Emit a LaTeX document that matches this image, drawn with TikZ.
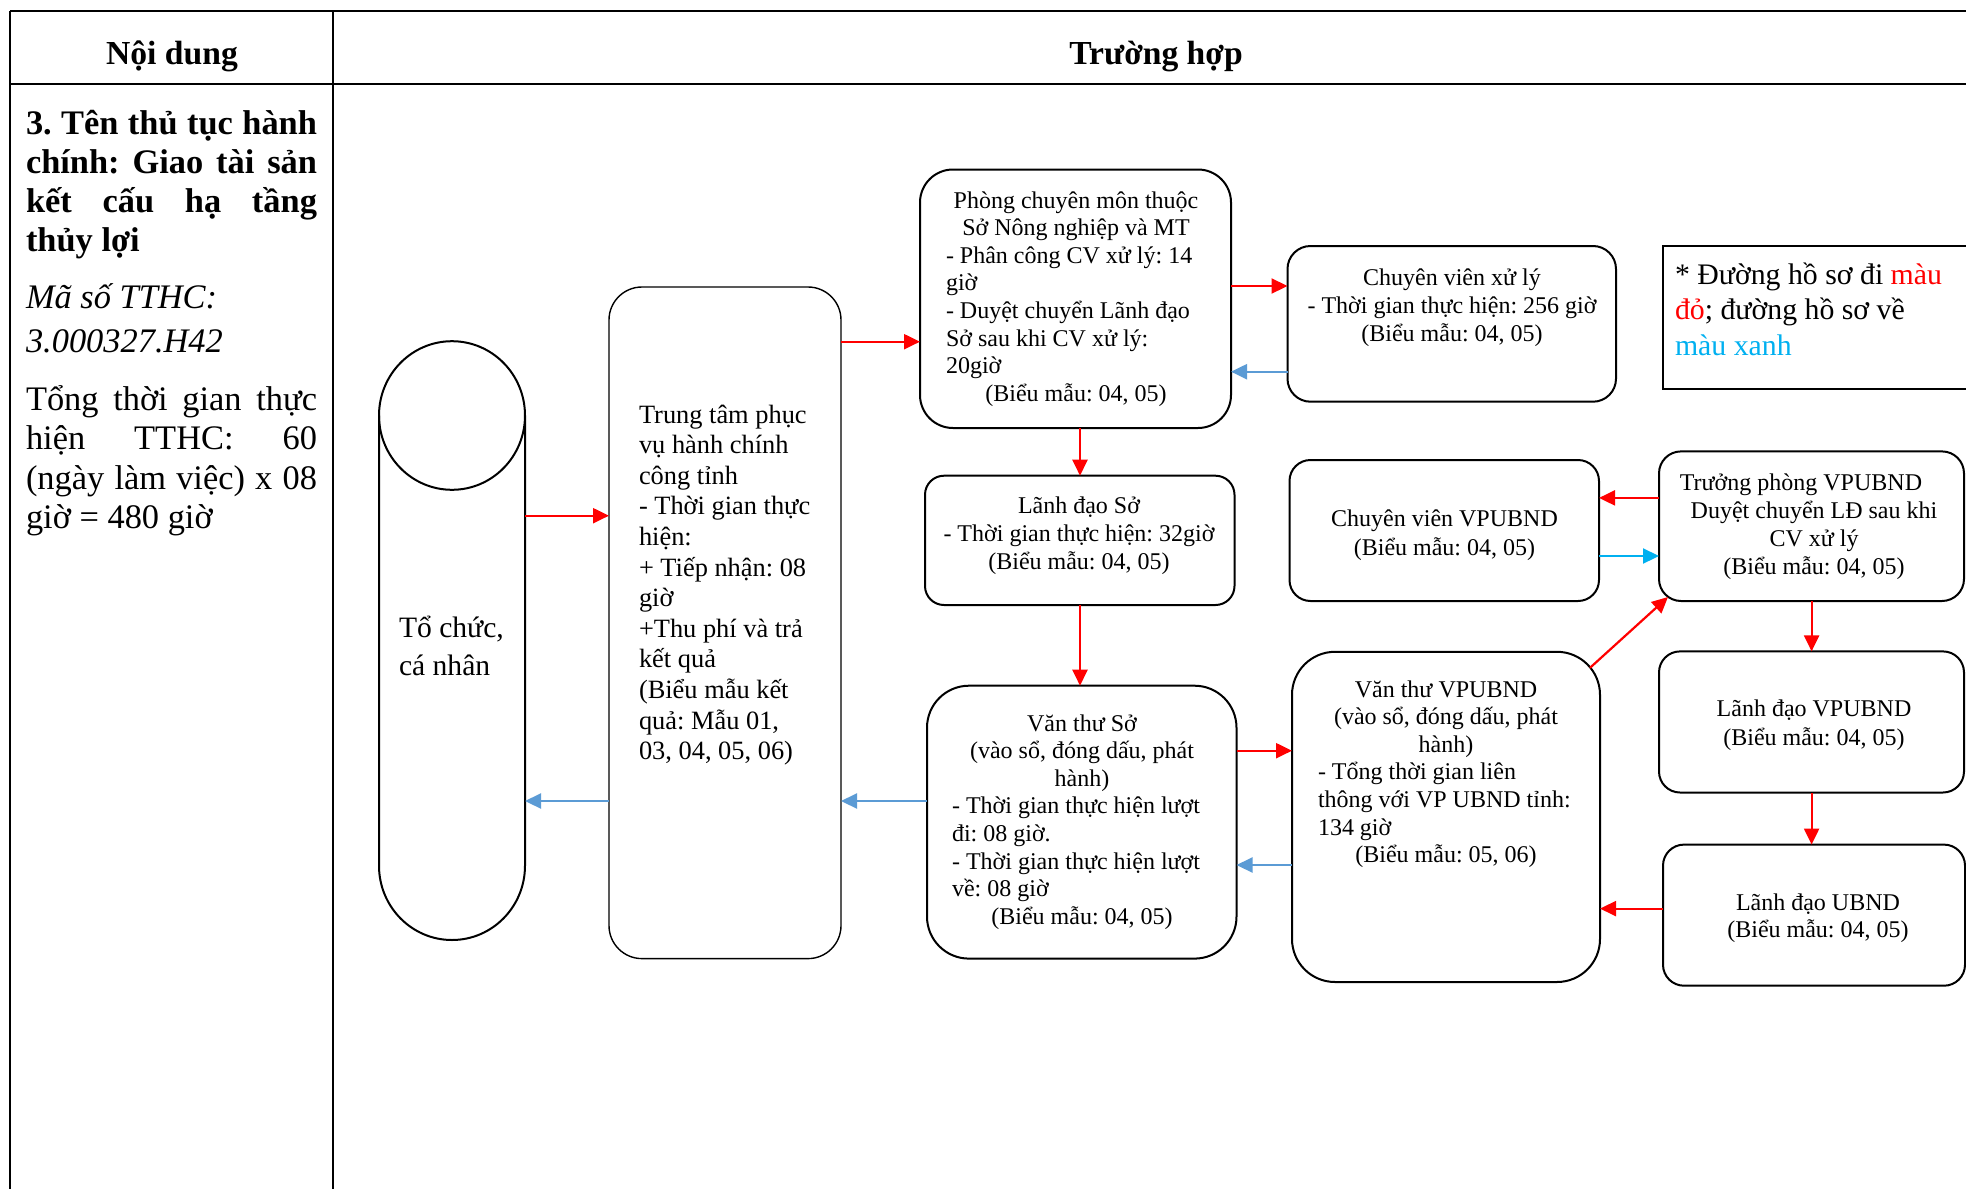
\documentclass[tikz,border=0pt]{standalone}
\usepackage{fontspec}
\setmainfont{Liberation Serif}
\usetikzlibrary{arrows.meta,calc}
\definecolor{arrred}{HTML}{FF0000}
\definecolor{arrblue}{HTML}{5B9BD5}
\definecolor{arrcyan}{HTML}{00B0F0}
\frenchspacing
\newcommand{\ns}{\spaceskip=0.25em\relax}
\newcommand{\jline}[1]{\makebox[145.5pt][s]{\spaceskip=0.25em plus 10em\relax #1}}
\newcommand{\fsbox}{\fontsize{12}{13.8}\selectfont\frenchspacing}
\newcommand{\fshdr}{\fontsize{16.8}{19}\selectfont\bfseries}
\begin{document}
\begin{tikzpicture}[x=0.5pt,y=-0.5pt,
  boxsty/.style={draw=black, line width=1pt, rectangle, inner sep=0pt, outer sep=0pt},
  txt/.style={inner sep=0pt, outer sep=0pt},
  ctxt/.style={txt, anchor=base, align=center, text width=#1},
  ltxt/.style={txt, anchor=base west, align=left, text width=#1},
  conn/.style={line width=1.1pt, -{Triangle[length=8pt,width=7.5pt]}},
  redarr/.style={conn, color=arrred},
  bluearr/.style={conn, color=arrblue},
  cyanarr/.style={conn, color=arrcyan},
  tline/.style={line width=1pt, draw=black}]
\useasboundingbox (0,0) rectangle (1966,1189);
\fill[white] (0,0) rectangle (1966,1189);

% table frame
\draw[tline] (10,11.4) -- (1990,11.4);
\draw[tline] (10,84) -- (1990,84);
\draw[tline] (10,11.4) -- (10,1200);
\draw[tline] (332.6,11.4) -- (332.6,1200);

% headers
\node[txt, anchor=base, font=\fshdr] (hnd) at (172,64) {Nội dung};
\node[txt, anchor=base, font=\fshdr] (hth) at (1156,64) {Trường hợp};

% left column
\node[ltxt=145.5pt, font=\fontsize{17.2}{19.5}\selectfont\bfseries\frenchspacing] (title) at (26,134)
 {\ns\jline{3. Tên thủ tục hành}\\ \jline{chính: Giao tài sản}\\ \jline{kết cấu hạ tầng}\\ thủy lợi};
\node[ltxt=145.5pt, font=\fontsize{17.2}{22}\selectfont\itshape\frenchspacing] (code) at (26,308)
 {\ns Mã số TTHC:\\ 3.000327.H42};
\node[ltxt=145.5pt, font=\fontsize{17.2}{19.75}\selectfont\frenchspacing] (total) at (26,410)
 {\ns\jline{Tổng thời gian thực}\\ \jline{hiện TTHC: 60}\\ \jline{(ngày làm việc) x 08}\\ giờ = 480 giờ};

% cylinder
\node[txt, minimum width=73pt, minimum height=299.5pt] (cyl) at (452,640.6) {};
\draw[line width=1pt] (379,415.5) -- (379,865.7) arc[start angle=180, end angle=360, x radius=36.5pt, y radius=37.15pt] -- (525,415.5);
\draw[line width=1pt] (452,415.5) ellipse [x radius=36.5pt, y radius=37.15pt];
\node[ltxt=60pt, font=\fontsize{14.8}{19}\selectfont\frenchspacing] (cylt) at (399,637) {\ns Tổ chức,\\ cá nhân};

% boxes
\node[boxsty, line width=0.7pt, rounded corners=16.5pt, minimum width=116pt, minimum height=335.8pt] (tt) at (725,622.8) {};
\node[boxsty, rounded corners=16.5pt, minimum width=155.5pt, minimum height=129.25pt] (pcm) at (1075.5,298.75) {};
\node[boxsty, rounded corners=11.5pt, minimum width=164.25pt, minimum height=77.85pt] (cvxl) at (1451.75,323.85) {};
\node[boxsty, minimum width=156pt, minimum height=71.5pt] (leg) at (1819,317.5) {};
\node[boxsty, rounded corners=9.5pt, minimum width=154.75pt, minimum height=64.65pt] (lds) at (1079.75,540.35) {};
\node[boxsty, rounded corners=10.5pt, minimum width=154.75pt, minimum height=70.5pt] (cvv) at (1444.25,530.5) {};
\node[boxsty, rounded corners=11pt, minimum width=152.5pt, minimum height=74.8pt] (tp) at (1811.5,526.2) {};
\node[boxsty, rounded corners=10.5pt, minimum width=152.5pt, minimum height=70.55pt] (ldv) at (1811.5,721.95) {};
\node[boxsty, rounded corners=10.5pt, minimum width=151pt, minimum height=70.55pt] (ldu) at (1814,915.15) {};
\node[boxsty, rounded corners=21.5pt, minimum width=154pt, minimum height=165.1pt] (vtv) at (1446,816.9) {};
\node[boxsty, rounded corners=21pt, minimum width=154.75pt, minimum height=136.45pt] (vts) at (1081.75,822.15) {};

% box texts
\node[ltxt=95pt, font=\fontsize{13.2}{15.3}\selectfont\frenchspacing] (ttt) at (639,423)
 {\ns Trung tâm phục\\ vụ hành chính\\ công tỉnh\\ - Thời gian thực\\ hiện:\\ + Tiếp nhận: 08\\ giờ\\ +Thu phí và trả\\ kết quả\\ (Biểu mẫu kết\\ quả: Mẫu 01,\\ 03, 04, 05, 06)};

\node[txt, anchor=base, text width=130pt, align=left, font=\fsbox] (pcmt) at (1076,208)
 {\ns{\centering Phòng chuyên môn thuộc\\ Sở Nông nghiệp và MT\par}
 - Phân công CV xử lý: 14\\ giờ\\ - Duyệt chuyển Lãnh đạo\\ Sở sau khi CV xử lý:\\ 20giờ\par
 {\centering (Biểu mẫu: 04, 05)\par}};

\node[ctxt=160pt, font=\fontsize{12}{14}\selectfont\frenchspacing] (cvxlt) at (1452,285)
 {\ns Chuyên viên xử lý\\ - Thời gian thực hiện: 256 giờ\\ (Biểu mẫu: 04, 05)};

\node[ltxt=150pt, font=\fontsize{14.9}{17.75}\selectfont\frenchspacing] (legt) at (1675,284)
 {\ns * Đường hồ sơ đi \textcolor{arrred}{màu}\\ \textcolor{arrred}{đỏ}; đường hồ sơ về\\ \textcolor{arrcyan}{màu xanh}};

\node[ctxt=150pt, font=\fontsize{12}{14.1}\selectfont\frenchspacing] (ldst) at (1079,513)
 {\ns Lãnh đạo Sở\\ - Thời gian thực hiện: 32giờ\\ (Biểu mẫu: 04, 05)};

\node[ctxt=150pt, font=\fontsize{12}{14.1}\selectfont\frenchspacing] (cvvt) at (1444.5,526.8)
 {\ns Chuyên viên VPUBND\\ (Biểu mẫu: 04, 05)};

\node[ctxt=150pt, font=\fontsize{12}{14}\selectfont\frenchspacing] (tpt) at (1814,490)
 {\ns Trưởng phòng VPUBND\rule{13pt}{0pt}\\ Duyệt chuyển LĐ sau khi\\ CV xử lý\\ (Biểu mẫu: 04, 05)};

\node[ctxt=150pt, font=\fontsize{12}{14.1}\selectfont\frenchspacing] (ldvt) at (1814,716.8)
 {\ns Lãnh đạo VPUBND\\ (Biểu mẫu: 04, 05)};

\node[ctxt=150pt, font=\fontsize{12}{13.4}\selectfont\frenchspacing] (ldut) at (1818,910.7)
 {\ns Lãnh đạo UBND\\ (Biểu mẫu: 04, 05)};

\node[txt, anchor=base, text width=128pt, align=left, font=\fsbox] (vtvt) at (1446,697)
 {\ns{\centering Văn thư VPUBND\\ (vào sổ, đóng dấu, phát\\ hành)\par}
 - Tổng thời gian liên\\ thông với VP UBND tỉnh:\\ 134 giờ\par
 {\centering (Biểu mẫu: 05, 06)\par}};

\node[txt, anchor=base, text width=130pt, align=left, font=\fsbox] (vtst) at (1082,731)
 {\ns{\centering Văn thư Sở\\ (vào sổ, đóng dấu, phát\\ hành)\par}
 - Thời gian thực hiện lượt\\ đi: 08 giờ.\\ - Thời gian thực hiện lượt\\ về: 08 giờ\par
 {\centering (Biểu mẫu: 04, 05)\par}};

% connectors
\coordinate (h1) at (0,515.7);
\coordinate (h2) at (0,801);
\coordinate (h3) at (0,341.7);
\coordinate (h4) at (0,286);
\coordinate (h5) at (0,371.7);
\coordinate (h6) at (0,750.7);
\coordinate (h7) at (0,865);
\coordinate (h8) at (0,497.9);
\coordinate (h9) at (0,556);
\coordinate (h10) at (0,908.6);
\coordinate (v1) at (1080,0);
\coordinate (v2) at (1811.6,0);

\draw[redarr] (cyl.east |- h1) -- (tt.west |- h1);
\draw[bluearr] (tt.west |- h2) -- (cyl.east |- h2);
\draw[bluearr] (vts.west |- h2) -- (tt.east |- h2);
\draw[redarr] (tt.east |- h3) -- (pcm.west |- h3);
\draw[redarr] (pcm.east |- h4) -- (cvxl.west |- h4);
\draw[bluearr] (cvxl.west |- h5) -- (pcm.east |- h5);
\draw[redarr] (pcm.south -| v1) -- (lds.north -| v1);
\draw[redarr] (lds.south -| v1) -- (vts.north -| v1);
\draw[redarr] (vts.east |- h6) -- (vtv.west |- h6);
\draw[bluearr] (vtv.west |- h7) -- (vts.east |- h7);
\draw[redarr] ($(vtv.north east)+(-10,16)$) -- ($(tp.south west)+(9,-4)$);
\draw[redarr] (tp.west |- h8) -- (cvv.east |- h8);
\draw[cyanarr] (cvv.east |- h9) -- (tp.west |- h9);
\draw[redarr] (tp.south -| v2) -- (ldv.north -| v2);
\draw[redarr] (ldv.south -| v2) -- (ldu.north -| v2);
\draw[redarr] (ldu.west |- h10) -- (vtv.east |- h10);
\end{tikzpicture}
\end{document}
